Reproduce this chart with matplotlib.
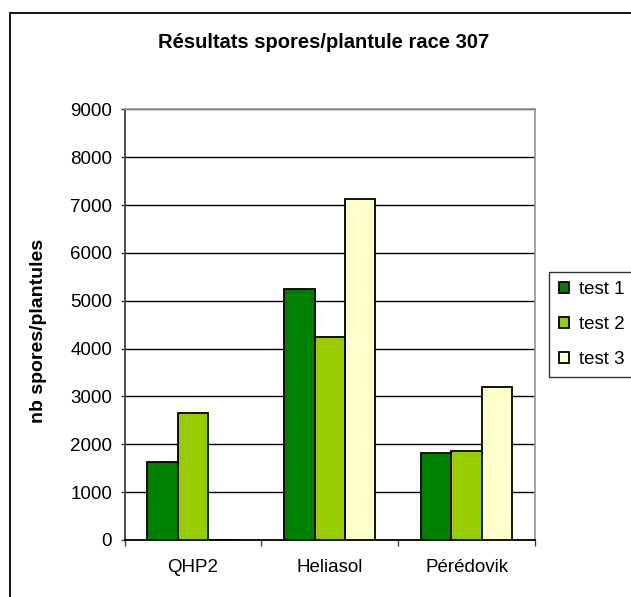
import numpy as np
import matplotlib.pyplot as plt
from matplotlib.patches import Rectangle

plt.rcParams['font.family'] = ['Liberation Sans', 'DejaVu Sans']

categories = ['QHP2', 'Heliasol', 'Pérédovik']
series_names = ['test 1', 'test 2', 'test 3']
test1 = [1640, 5250, 1820]
test2 = [2660, 4250, 1860]
test3 = [0, 7130, 3200]
colors = ['#008000', '#99CC00', '#FFFFCC']
y_ticks = [0, 1000, 2000, 3000, 4000, 5000, 6000, 7000, 8000, 9000]

W, H = 631, 597
fig = plt.figure(figsize=(W / 100, H / 100), dpi=100)

# zone du graphique (coordonnées en pixels converties)
left, right, top, bottom = 124.7, 535, 109.3, 540
ax = fig.add_axes([left / W, (H - bottom) / H, (right - left) / W, (bottom - top) / H])

x = np.arange(len(categories)) + 0.5
w = 1 / 4.5
for i, (vals, c, name) in enumerate(zip([test1, test2, test3], colors, series_names)):
    ax.bar(x + (i - 1) * w, vals, width=w, color=c, edgecolor='black',
           linewidth=1.3, label=name, zorder=3)

ax.set_xlim(0, 3)
ax.set_ylim(0, 9000)
ax.set_yticks(y_ticks)
ax.set_yticklabels([str(v) for v in y_ticks], fontsize=13.5)
ax.yaxis.grid(True, color='black', linewidth=1.0, zorder=0)
ax.tick_params(axis='y', direction='out', length=3, width=1, pad=6, color='#404040')

ax.set_xticks([0, 1, 2, 3])
ax.set_xticklabels([])
ax.set_xticks(x, minor=True)
ax.set_xticklabels(categories, minor=True, fontsize=13.5)
ax.tick_params(axis='x', which='major', direction='out', length=4, width=1, color='#404040')
ax.tick_params(axis='x', which='minor', length=0, pad=14)

ax.spines['left'].set_color('#404040')
ax.spines['bottom'].set_color('black')
ax.spines['top'].set_color('#9a9a9a')
ax.spines['right'].set_color('#9a9a9a')
for s in ax.spines.values():
    s.set_linewidth(1.3)

ax.set_ylabel('nb spores/plantules', fontsize=14, fontweight='bold')
ax.yaxis.set_label_coords((47 - left) / (right - left), (bottom - 331) / (bottom - top))

fig.text(323.5 / W, (H - 43) / H, 'Résultats spores/plantule race 307',
         ha='center', va='center', fontsize=14.5, fontweight='bold')

leg = fig.legend(loc='center', bbox_to_anchor=(591.5 / W, (H - 324.5) / H),
                 fontsize=13.5, frameon=True, fancybox=False, edgecolor='black',
                 handlelength=0.55, handleheight=0.55, handletextpad=0.5,
                 labelspacing=0.95, borderpad=0.5, borderaxespad=0)
leg.get_frame().set_linewidth(1.0)

# cadre extérieur du graphique
fig.patches.append(Rectangle((10 / W, -0.05), 1.0, (H - 13) / H + 0.05,
                             transform=fig.transFigure, fill=False,
                             edgecolor='black', linewidth=1.3))

fig.savefig('out.png', dpi=100)
